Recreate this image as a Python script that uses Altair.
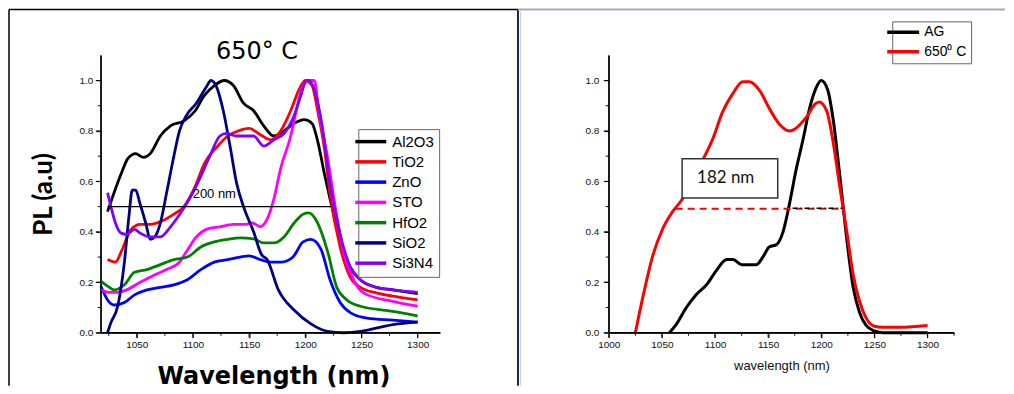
import altair as alt
import pandas as pd

# ---------------- left panel: 650 C, seven capping layers ----------------
LEFT_NAMES = ["Al2O3", "TiO2", "ZnO", "STO", "HfO2", "SiO2", "Si3N4"]
LEFT_COLORS = ["#000000", "#ff0000", "#0000ff", "#ff00ff", "#008000", "#000080", "#8000ff"]

AL2O3_WL = [1024, 1031, 1037, 1042, 1049, 1056, 1062, 1071, 1080, 1092, 1102, 1110, 1119, 1128, 1136, 1145, 1154,
            1163, 1172, 1181, 1190, 1199, 1206, 1211, 1217, 1222, 1231, 1240, 1249, 1263, 1278, 1300]
AL2O3_PL = [0.48, 0.57, 0.64, 0.69, 0.71, 0.695, 0.71, 0.78, 0.82, 0.84, 0.88, 0.94, 0.98, 1.0, 0.98, 0.91, 0.88,
            0.82, 0.78, 0.80, 0.83, 0.845, 0.83, 0.76, 0.63, 0.53, 0.37, 0.26, 0.21, 0.18, 0.17, 0.155]

TIO2_WL = [1024, 1031, 1037, 1045, 1053, 1062, 1071, 1083, 1092, 1102, 1110, 1122, 1131, 1140, 1150, 1160, 1169,
           1178, 1187, 1194, 1200, 1206, 1211, 1217, 1222, 1231, 1240, 1249, 1264, 1278, 1300]
TIO2_PL = [0.29, 0.28, 0.33, 0.41, 0.43, 0.43, 0.44, 0.47, 0.50, 0.58, 0.67, 0.74, 0.78, 0.80, 0.81, 0.785, 0.765,
           0.80, 0.88, 0.96, 1.0, 0.98, 0.88, 0.73, 0.55, 0.34, 0.22, 0.18, 0.157, 0.145, 0.13]

ZNO_WL = [1018, 1024, 1030, 1039, 1048, 1059, 1071, 1083, 1095, 1107, 1119, 1131, 1142, 1150, 1160, 1169, 1179,
          1189, 1198, 1205, 1214, 1222, 1231, 1240, 1255, 1278, 1300]
ZNO_PL = [0.185, 0.13, 0.11, 0.12, 0.15, 0.17, 0.18, 0.19, 0.21, 0.25, 0.28, 0.29, 0.30, 0.305, 0.29, 0.28, 0.28,
          0.30, 0.36, 0.37, 0.33, 0.21, 0.12, 0.08, 0.058, 0.05, 0.042]

STO_WL = [1018, 1025, 1032, 1041, 1053, 1064, 1076, 1088, 1094, 1103, 1112, 1124, 1136, 1147, 1153, 1160, 1166,
          1172, 1178, 1187, 1193, 1199, 1205, 1208, 1212, 1220, 1227, 1234, 1243, 1252, 1278, 1300]
STO_PL = [0.17, 0.16, 0.16, 0.17, 0.20, 0.225, 0.25, 0.28, 0.32, 0.38, 0.41, 0.42, 0.43, 0.43, 0.435, 0.42, 0.45,
          0.53, 0.65, 0.78, 0.90, 0.99, 1.0, 1.0, 0.88, 0.69, 0.49, 0.32, 0.21, 0.157, 0.124, 0.105]

HFO2_WL = [1018, 1024, 1030, 1039, 1048, 1059, 1071, 1083, 1095, 1107, 1119, 1131, 1142, 1154, 1163, 1172, 1181,
           1190, 1198, 1203, 1211, 1220, 1228, 1237, 1249, 1278, 1300]
HFO2_PL = [0.205, 0.185, 0.17, 0.19, 0.24, 0.25, 0.27, 0.29, 0.30, 0.34, 0.36, 0.37, 0.376, 0.372, 0.356, 0.356, 0.38,
           0.435, 0.47, 0.475, 0.435, 0.32, 0.18, 0.13, 0.105, 0.085, 0.067]

SIO2_WL = [1024, 1027, 1033, 1039, 1043, 1046, 1049, 1053, 1058, 1062, 1066, 1071, 1077, 1083, 1088, 1094, 1103,
           1112, 1116, 1121, 1127, 1133, 1139, 1145, 1154, 1161, 1166, 1176, 1190, 1205, 1220, 1234, 1249, 1263,
           1278, 1300]
SIO2_PL = [0.0, 0.04, 0.105, 0.28, 0.46, 0.565, 0.565, 0.51, 0.435, 0.37, 0.38, 0.435, 0.565, 0.70, 0.80, 0.86, 0.91,
           0.975, 1.0, 0.975, 0.88, 0.74, 0.59, 0.50, 0.40, 0.31, 0.29, 0.17, 0.09, 0.035, 0.005, 0.0, 0.005, 0.018,
           0.032, 0.042]

SI3N4_WL = [1024, 1027, 1031, 1036, 1041, 1048, 1053, 1062, 1071, 1080, 1089, 1098, 1107, 1115, 1124, 1130, 1139,
            1148, 1154, 1163, 1172, 1181, 1190, 1196, 1201, 1203, 1209, 1215, 1222, 1231, 1240, 1249, 1263, 1278,
            1300]
SI3N4_PL = [0.555, 0.50, 0.435, 0.395, 0.39, 0.41, 0.395, 0.38, 0.38, 0.42, 0.475, 0.54, 0.62, 0.70, 0.78, 0.79,
            0.78, 0.78, 0.78, 0.74, 0.765, 0.79, 0.86, 0.94, 1.0, 1.0, 0.95, 0.82, 0.59, 0.39, 0.26, 0.21, 0.18, 0.17,
            0.16]

LEFT_SERIES = [AL2O3_WL, TIO2_WL, ZNO_WL, STO_WL, HFO2_WL, SIO2_WL, SI3N4_WL]
LEFT_VALUES = [AL2O3_PL, TIO2_PL, ZNO_PL, STO_PL, HFO2_PL, SIO2_PL, SI3N4_PL]

LEFT_TITLE = ["650° C"]
LEFT_TITLE_POS = [1157, 1.084]
FWHM_LEFT = [1024, 1223, 0.50]          # x start, x end, level
FWHM_LEFT_LABEL = ["200 nm"]
FWHM_LEFT_LABEL_POS = [1119, 0.535]

LEFT_X_DOMAIN = [1018, 1320]
LEFT_X_MAJOR = [1050, 1100, 1150, 1200, 1250, 1300]
LEFT_X_MINOR = [1025, 1075, 1125, 1175, 1225, 1275]

# ---------------- right panel: AG vs 650 C ----------------
RIGHT_NAMES = ["AG", "650⁰ C"]
RIGHT_COLORS = ["#000000", "#ff0000"]

AG_WL = [1057, 1063, 1073, 1082, 1092, 1101, 1111, 1117, 1125, 1132, 1139, 1145, 1151, 1158, 1164, 1170, 1176, 1183,
         1189, 1195, 1200, 1206, 1211, 1217, 1224, 1230, 1236, 1242, 1250, 1258, 1300]
AG_PL = [0.0, 0.03, 0.10, 0.15, 0.19, 0.245, 0.29, 0.29, 0.27, 0.27, 0.27, 0.30, 0.34, 0.35, 0.40, 0.51, 0.64, 0.77,
         0.89, 0.97, 1.0, 0.963, 0.85, 0.64, 0.37, 0.18, 0.08, 0.03, 0.007, 0.0, 0.0]

T650_WL = [1025, 1032, 1041, 1051, 1060, 1070, 1079, 1089, 1098, 1107, 1117, 1126, 1132, 1142, 1151, 1161, 1170,
           1176, 1186, 1195, 1198, 1205, 1211, 1217, 1224, 1230, 1236, 1242, 1250, 1258, 1274, 1300]
T650_PL = [0.0, 0.14, 0.30, 0.415, 0.48, 0.535, 0.62, 0.69, 0.77, 0.875, 0.95, 0.995, 0.995, 0.96, 0.89, 0.825, 0.80,
           0.81, 0.855, 0.91, 0.915, 0.88, 0.76, 0.59, 0.40, 0.23, 0.125, 0.06, 0.026, 0.022, 0.022, 0.029]

FWHM_RED = [1063, 1219, 0.492]
FWHM_BLACK = [1173, 1220, 0.494]
BOX_X = [1069, 1159]
BOX_Y = [0.534, 0.69]
BOX_LABEL = ["182 nm"]
BOX_LABEL_POS = [1110, 0.613]

RIGHT_X_DOMAIN = [1000, 1325]
RIGHT_X_MAJOR = [1000, 1050, 1100, 1150, 1200, 1250, 1300]
RIGHT_X_MINOR = [1025, 1075, 1125, 1175, 1225, 1275, 1325]

Y_DOMAIN = [0, 1.1]
Y_MAJOR = [0.0, 0.2, 0.4, 0.6, 0.8, 1.0]
Y_MINOR = [0.1, 0.3, 0.5, 0.7, 0.9]


def long_table(names, wls, vals):
    rows = []
    for order, (n, w, v) in enumerate(zip(names, wls, vals)):
        for a, b in zip(w, v):
            rows.append({"series": n, "wl": a, "pl": b, "o": order})
    return pd.DataFrame(rows)


left_df = long_table(LEFT_NAMES, LEFT_SERIES, LEFT_VALUES)
right_df = long_table(RIGHT_NAMES, [AG_WL, T650_WL], [AG_PL, T650_PL])

FONT = "Liberation Sans"
PLOT_H = 278


def pixel_rule(x, y, x2=None, y2=None, color="black", width=1.5):
    enc = {"x": alt.value(x), "y": alt.value(y)}
    if x2 is not None:
        enc["x2"] = alt.value(x2)
    if y2 is not None:
        enc["y2"] = alt.value(y2)
    return alt.Chart(pd.DataFrame({"k": [0]})).mark_rule(color=color, strokeWidth=width).encode(**enc)


def ticks_layer(xmajor, xminor, ymajor, yminor, width):
    """Axis lines and ticks drawn from the tick lists through the panel's scales."""
    out = [pixel_rule(0, PLOT_H, x2=width, width=1.3), pixel_rule(0, 0, y2=PLOT_H, width=1.3)]
    for vals, size in ((xmajor, 5), (xminor, 3)):
        out.append(alt.Chart(pd.DataFrame({"t": vals})).mark_rule(color="black", strokeWidth=1).encode(
            x="t:Q", y=alt.value(PLOT_H), y2=alt.value(PLOT_H + size)))
    for vals, size in ((ymajor, 5), (yminor, 3)):
        out.append(alt.Chart(pd.DataFrame({"t": vals})).mark_rule(color="black", strokeWidth=1).encode(
            y="t:Q", x=alt.value(0), x2=alt.value(-size)))
    return out


def text_layer(pos, label, **style):
    return alt.Chart(pd.DataFrame({"x": [pos[0]], "y": [pos[1]], "t": label})).mark_text(**style).encode(
        x="x:Q", y="y:Q", text="t:N")


# ---- left ----
lx = alt.Scale(domain=LEFT_X_DOMAIN, nice=False, zero=False)
ly = alt.Scale(domain=Y_DOMAIN, nice=False)
LEFT_W = 340

left_lines = alt.Chart(left_df).mark_line(strokeWidth=2.8, interpolate="monotone").encode(
    x=alt.X("wl:Q", scale=lx,
            axis=alt.Axis(values=LEFT_X_MAJOR, format="d", tickSize=5, labelPadding=2, labelFlush=False,
                          labelOverlap=False, title="Wavelength (nm)", titleFont="DejaVu Sans", titleFontSize=24,
                          titleFontWeight="bold", titlePadding=15, titleColor="black", titleX=173)),
    y=alt.Y("pl:Q", scale=ly,
            axis=alt.Axis(values=Y_MAJOR, format=".1f", tickSize=5, labelPadding=3, labelFlush=False,
                          labelOverlap=False, title="PL (a.u)", titleFont="Lato", titleFontSize=26,
                          titleFontWeight="bold", titleColor="black", titlePadding=23)),
    color=alt.Color("series:N", scale=alt.Scale(domain=LEFT_NAMES, range=LEFT_COLORS),
                    legend=alt.Legend(title=None, orient="none", legendX=258, legendY=74, symbolType="M-3.1,0H3.1",
                                      symbolSize=100, symbolStrokeWidth=3.5, labelFont=FONT, labelFontSize=15,
                                      labelColor="black", strokeColor="#666", fillColor="white", padding=5,
                                      rowPadding=4.3, labelOffset=14)),
    order="o:Q",
    detail="series:N",
)

left_rule = alt.Chart(pd.DataFrame({"x": [FWHM_LEFT[0]], "x2": [FWHM_LEFT[1]], "y": [FWHM_LEFT[2]]})).mark_rule(
    color="black", strokeWidth=1.2).encode(x="x:Q", x2="x2:Q", y="y:Q")
left_rule_txt = text_layer(FWHM_LEFT_LABEL_POS, FWHM_LEFT_LABEL, font=FONT, fontSize=13, color="black",
                           align="center", baseline="alphabetic")
left_title = text_layer(LEFT_TITLE_POS, LEFT_TITLE, font="DejaVu Sans", fontSize=24, color="black",
                        align="center", baseline="alphabetic")

left = alt.layer(
    left_lines, left_rule, left_rule_txt, left_title,
    *ticks_layer(LEFT_X_MAJOR, LEFT_X_MINOR, Y_MAJOR, Y_MINOR, LEFT_W),
    pixel_rule(-92, -46, y2=331),
    pixel_rule(-92, -46, x2=418),
).properties(width=LEFT_W, height=PLOT_H)

# ---- right ----
rx = alt.Scale(domain=RIGHT_X_DOMAIN, nice=False, zero=False)
ry = alt.Scale(domain=Y_DOMAIN, nice=False)
RIGHT_W = 346

right_lines = alt.Chart(right_df).mark_line(strokeWidth=3, interpolate="monotone").encode(
    x=alt.X("wl:Q", scale=rx,
            axis=alt.Axis(values=RIGHT_X_MAJOR, format="d", tickSize=5, labelPadding=2, labelFlush=False,
                          labelOverlap=False, title="wavelength (nm)", titleFont=FONT, titleFontSize=13,
                          titleFontWeight="normal", titlePadding=10, titleColor="#111")),
    y=alt.Y("pl:Q", scale=ry,
            axis=alt.Axis(values=Y_MAJOR, format=".1f", tickSize=5, labelPadding=5, labelFlush=False,
                          labelOverlap=False, title=None)),
    color=alt.Color("series:N", scale=alt.Scale(domain=RIGHT_NAMES, range=RIGHT_COLORS),
                    legend=alt.Legend(title=None, orient="none", legendX=284, legendY=-34, symbolType="M-3.2,0H3.2",
                                      symbolSize=100, symbolStrokeWidth=3.5, labelFont=FONT, labelFontSize=14,
                                      labelColor="black", strokeColor="#666", fillColor="white", padding=4,
                                      rowPadding=5.5, labelOffset=14)),
    order="o:Q",
    detail="series:N",
)

red_dash = alt.Chart(pd.DataFrame({"x": [FWHM_RED[0]], "x2": [FWHM_RED[1]], "y": [FWHM_RED[2]]})).mark_rule(
    color="#ff0000", strokeWidth=2, strokeDash=[7, 5]).encode(x="x:Q", x2="x2:Q", y="y:Q")
black_dash = alt.Chart(pd.DataFrame({"x": [FWHM_BLACK[0]], "x2": [FWHM_BLACK[1]], "y": [FWHM_BLACK[2]]})).mark_rule(
    color="black", strokeWidth=1.5, strokeDash=[5, 3, 1, 3]).encode(x="x:Q", x2="x2:Q", y="y:Q")
box = alt.Chart(pd.DataFrame({"x": [BOX_X[0]], "x2": [BOX_X[1]], "y": [BOX_Y[0]], "y2": [BOX_Y[1]]})).mark_rect(
    fill="white", stroke="#333", strokeWidth=1.5).encode(x="x:Q", x2="x2:Q", y="y:Q", y2="y2:Q")
box_txt = text_layer(BOX_LABEL_POS, BOX_LABEL, font="Lato", fontSize=17, color="#111", align="center",
                     baseline="middle")

right = alt.layer(
    right_lines, red_dash, black_dash, box, box_txt,
    *ticks_layer(RIGHT_X_MAJOR, RIGHT_X_MINOR, Y_MAJOR, Y_MINOR, RIGHT_W),
    pixel_rule(-91, -46, y2=331, color="#1c2748", width=2),
    pixel_rule(-88.5, -44, y2=331, color="#c8d0e0", width=1.2),
    pixel_rule(-91, -46, x2=397, color="#a3abbb", width=2),
).properties(width=RIGHT_W, height=PLOT_H)

chart = alt.hconcat(left, right, spacing=169, bounds="flush").resolve_scale(
    color="independent"
).properties(
    padding=0, background="white"
).configure_view(stroke=None).configure_axis(
    grid=False, domainColor="black", domainWidth=1, tickColor="black", tickWidth=1,
    labelFont=FONT, labelFontSize=10, labelColor="#111"
)

chart.save("out.html", embed_options={"renderer": "svg", "actions": False})
